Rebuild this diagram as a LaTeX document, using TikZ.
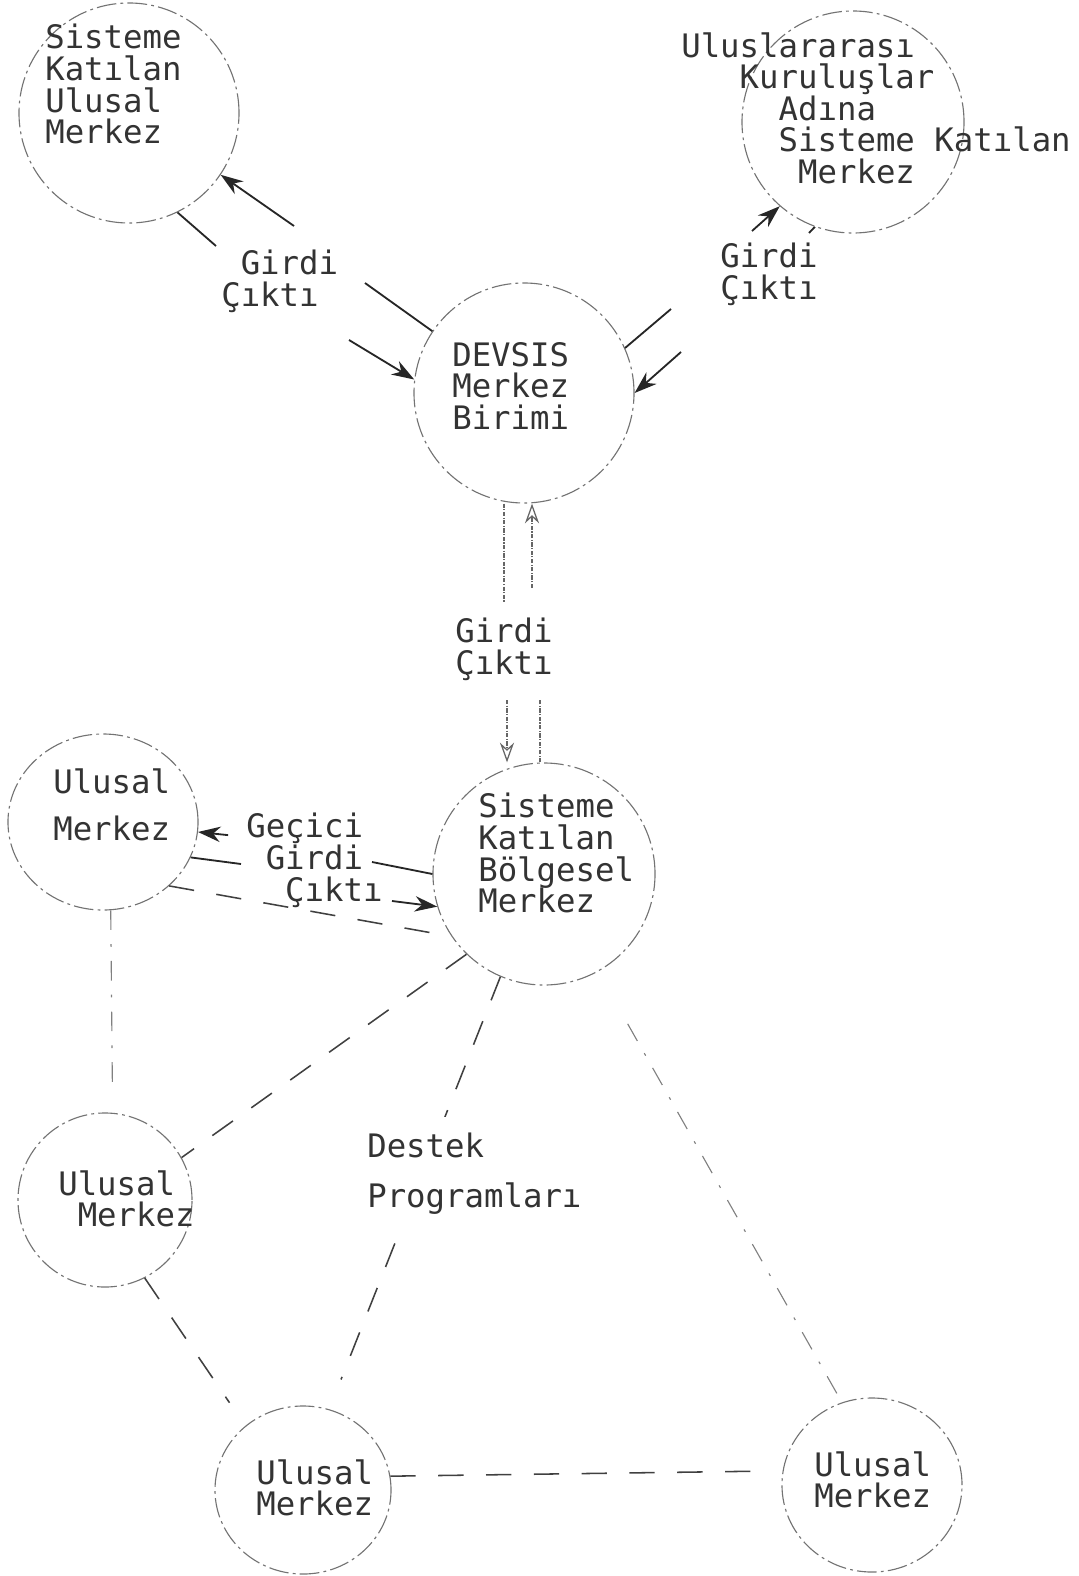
\documentclass[tikz,border=0pt]{standalone}
\usepackage{fontspec}
\newfontfamily\typer{DejaVu Sans Mono}
\usetikzlibrary{arrows.meta,shapes.geometric}

\tikzset{
  ring/.style={circle, draw=black!55, line width=0.8pt,
    dash pattern=on 14pt off 3pt on 2pt off 3pt, inner sep=0pt},
  oval/.style={ellipse, draw=black!55, line width=0.8pt,
    dash pattern=on 14pt off 3pt on 2pt off 3pt, inner sep=0pt},
  txt/.style={font={\typer\fontsize{23}{22.5}\selectfont}, text=black!80,
    align=left, anchor=north west, inner sep=0pt},
  flow/.style={draw=black!85, line width=1.3pt, -{Stealth[length=16pt,width=11pt]}},
  flowdot/.style={draw=black!60, line width=0.9pt, densely dashdotted,
    -{Stealth[open,length=14pt,width=10pt]}},
  link/.style={draw=black!75, line width=1.1pt, dash pattern=on 18pt off 16pt},
  faint/.style={draw=black!50, line width=0.8pt, dash pattern=on 14pt off 10pt on 2pt off 10pt}
}

\begin{document}
\begin{tikzpicture}[x=0.025cm,y=-0.025cm]
  \useasboundingbox (0,0) rectangle (1078,1576);

  % the centres
  \node[ring, minimum size=5.5cm]  (tl)  at (129,113) {};
  \node[ring, minimum size=5.55cm] (tr)  at (853,122) {};
  \node[ring, minimum size=5.5cm]  (dev) at (524,393) {};
  \node[ring, minimum size=5.55cm] (reg) at (544,874) {};
  \node[oval, minimum width=4.75cm, minimum height=4.4cm] (um1) at (103,822) {};
  \node[oval, minimum width=4.35cm, minimum height=4.35cm] (um2) at (105,1200) {};
  \node[oval, minimum width=4.4cm, minimum height=4.2cm] (um3) at (303,1490) {};
  \node[oval, minimum width=4.5cm, minimum height=4.35cm] (um4) at (872,1485) {};

  % top left <-> DEVSIS
  \coordinate (a1) at (365,283); \coordinate (a2) at (294,226);
  \draw[flow] (dev.146) -- (a1) (a2) -- (tl.-34);
  \coordinate (b1) at (216,246); \coordinate (b2) at (349,340);
  \draw[flow] (tl.-64) -- (b1) (b2) -- (dev.173);

  % DEVSIS <-> top right
  \coordinate (c1) at (671,309); \coordinate (c2) at (752,231);
  \draw[flow] (dev.24) -- (c1) (c2) -- (tr.-131);
  \coordinate (d1) at (809,233); \coordinate (d2) at (681,352);
  \draw[flow] (tr.-110) -- (d1) (d2) -- (dev.0);

  % DEVSIS <-> regional
  \coordinate (e1) at (504,603); \coordinate (e2) at (507,700);
  \draw[flowdot] (dev.south -| e1) -- (e1) (e2) -- (reg.north -| e2);
  \coordinate (f1) at (540,700); \coordinate (f2) at (532,588);
  \draw[flowdot] (reg.north -| f1) -- (f1) (f2) -- (dev.south -| f2);

  % regional <-> left
  \coordinate (g1) at (372,862); \coordinate (g2) at (246,837);
  \draw[flow, shorten <=0.45cm] (reg.west) -- (g1) (g2) -- (um1.-6);
  \coordinate (h1) at (241,864); \coordinate (h2) at (392,901);
  \draw[flow] (um1.-22) -- (h1) (h2) -- (reg.197);
  \draw[link] (um1.-44) -- (reg.214);

  % the network
  \draw[link] (reg.226) -- (um2.29);
  \draw[link, shorten >=0.8cm] (reg.247) -- (um3.72);
  \draw[faint, shorten <=1.5cm] (reg.-61) -- (um4.110);
  \draw[faint, shorten >=0.7cm] (um1.-85) -- (um2.85);
  \draw[link, shorten >=0.7cm] (um2.-63) -- (um3.132);
  \draw[link, shorten >=0.8cm] (um3.9) -- (um4.171);

  % texts
  \node[txt] (tlt) at (45,24) {Sisteme\\Katılan\\Ulusal\\Merkez};
  \node[txt] (trt) at (681,32) {Uluslararası\\\phantom{xxx}Kuruluşlar\\\phantom{xxxxx}Adına\\\phantom{xxxxx}Sisteme Katılan\\\phantom{xxxxxx}Merkez};
  \node[txt] (devt) at (452,342) {DEVSIS\\Merkez\\Birimi};
  \node[txt] (regt) at (478,793) {Sisteme\\Katılan\\Bölgesel\\Merkez};
  \node[txt] (um1t) at (53,768) {Ulusal\\[0.4cm]Merkez};
  \node[txt] (um2t) at (58,1170) {Ulusal\\\phantom{x}Merkez};
  \node[txt] (um3t) at (256,1459) {Ulusal\\Merkez};
  \node[txt] (um4t) at (814,1451) {Ulusal\\Merkez};
  \node[txt] (io1) at (221,250) {\phantom{x}Girdi\\Çıktı};
  \node[txt] (io2) at (720,243) {Girdi\\Çıktı};
  \node[txt] (io3) at (455,618) {Girdi\\Çıktı};
  \node[txt] (io4) at (246,813) {Geçici\\\phantom{x}Girdi\\\phantom{xx}Çıktı};
  \node[txt, fill=white, inner ysep=0.4cm] (sup) at (367,1117) {Destek\\[0.45cm]Programları};
\end{tikzpicture}
\end{document}
